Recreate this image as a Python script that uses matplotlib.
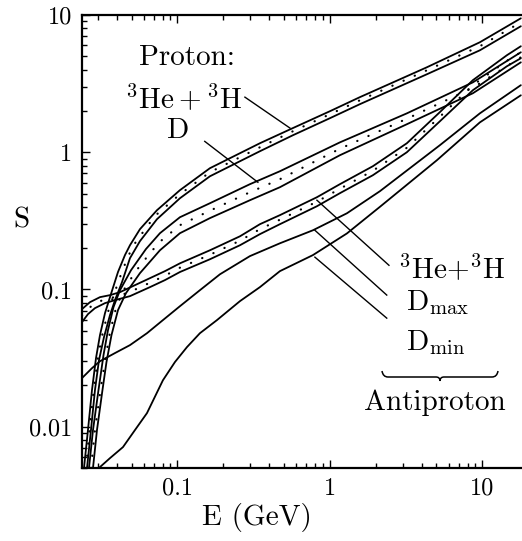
import matplotlib
matplotlib.use('Agg')
import matplotlib.pyplot as plt
from matplotlib.path import Path
from matplotlib.patches import PathPatch
from matplotlib.ticker import FixedLocator, FixedFormatter, LogLocator, NullFormatter

plt.rcParams['font.family'] = 'cmr10'
plt.rcParams['mathtext.fontset'] = 'cm'
plt.rcParams['axes.unicode_minus'] = False

# ---------------- data ----------------
# Proton, 3He+3H band
p_he_hi_E = [0.02437, 0.02588, 0.0275, 0.02922, 0.03103, 0.03347, 0.03609, 0.04073, 0.04525, 0.04881,
             0.05676, 0.07337, 0.1038, 0.1633, 0.3475, 0.5719, 1.0, 1.573, 4.326, 9.63, 17.88]
p_he_hi_S = [0.005, 0.00945, 0.0185, 0.0316, 0.0465, 0.0672, 0.0879, 0.134, 0.178, 0.210,
             0.275, 0.378, 0.529, 0.765, 1.163, 1.50, 1.99, 2.52, 4.16, 6.33, 9.46]
p_he_mid_E = [0.02512, 0.02668, 0.02835, 0.03011, 0.03198, 0.03501, 0.03776, 0.04198, 0.04737, 0.05263,
              0.06405, 0.07337, 0.1038, 0.1633, 0.3475, 0.5719, 1.0, 1.573, 4.326, 9.63, 17.88]
p_he_mid_S = [0.005, 0.0103, 0.0194, 0.0321, 0.0457, 0.0684, 0.0879, 0.123, 0.174, 0.217,
              0.294, 0.3535, 0.494, 0.715, 1.087, 1.422, 1.891, 2.391, 3.955, 5.92, 8.85]
p_he_lo_E = [0.02551, 0.02708, 0.02877, 0.03056, 0.03296, 0.03609, 0.03893, 0.04326, 0.04881, 0.05676,
             0.07337, 0.1038, 0.1633, 0.3475, 0.5719, 1.0, 1.573, 4.326, 9.63, 17.88]
p_he_lo_S = [0.005, 0.00945, 0.0185, 0.0305, 0.0449, 0.065, 0.0836, 0.113, 0.169, 0.225,
             0.325, 0.462, 0.668, 1.017, 1.33, 1.77, 2.24, 3.70, 5.53, 8.28]

# Proton, D band
p_d_hi_E = [0.02628, 0.02792, 0.03034, 0.03272, 0.03501, 0.03805, 0.04198, 0.04956, 0.06214, 0.07676,
            0.1038, 0.1633, 0.2988, 0.47, 1.163, 3.198, 8.663, 17.88]
p_d_hi_S = [0.005, 0.00945, 0.0185, 0.0332, 0.0505, 0.0743, 0.0988, 0.138, 0.197, 0.257,
            0.336, 0.425, 0.585, 0.727, 1.18, 1.92, 3.23, 5.35]
p_d_mid_E = [0.02708, 0.02877, 0.03127, 0.03372, 0.03609, 0.03951, 0.04391, 0.05303, 0.06601, 0.07676,
             0.1038, 0.1633, 0.2988, 0.47, 1.163, 3.198, 8.663, 17.88]
p_d_mid_S = [0.005, 0.00945, 0.0185, 0.0316, 0.0489, 0.0731, 0.0971, 0.1348, 0.1838, 0.2229,
             0.294, 0.375, 0.511, 0.636, 1.060, 1.754, 2.95, 4.92]
p_d_lo_E = [0.02792, 0.02965, 0.03222, 0.03423, 0.03692, 0.04073, 0.04594, 0.05676, 0.07676, 0.1038,
            0.1633, 0.2988, 0.47, 1.163, 3.198, 8.663, 17.88]
p_d_lo_S = [0.005, 0.00945, 0.0185, 0.0296, 0.0465, 0.0707, 0.094, 0.1315, 0.193, 0.257,
            0.331, 0.447, 0.556, 0.951, 1.60, 2.69, 4.52]

# Antiproton, 3He+3H band
a_he_E = [0.02365, 0.02668, 0.03103, 0.03609, 0.04198, 0.05263, 0.06601, 0.08279, 0.1038, 0.1633,
          0.257, 0.3475, 0.47, 0.8217, 1.163, 1.914, 3.198, 5.264, 8.663, 14.48, 17.88]
a_he_hi_S = [0.0719, 0.0808, 0.0879, 0.0909, 0.0956, 0.1075, 0.1209, 0.136, 0.155, 0.193,
             0.244, 0.299, 0.348, 0.470, 0.585, 0.791, 1.163, 1.96, 3.35, 5.09, 5.92]
a_he_mid_S = [0.0645, 0.0743, 0.0822, 0.0864, 0.0901, 0.0997, 0.112, 0.126, 0.1441, 0.179,
              0.2266, 0.275, 0.3224, 0.436, 0.542, 0.733, 1.078, 1.814, 3.08, 4.64, 5.35]
a_he_lo_E = [0.02365, 0.02588, 0.02877, 0.03347, 0.03893, 0.04881, 0.06601, 0.08279, 0.1038, 0.1633,
             0.257, 0.3475, 0.47, 0.8217, 1.163, 1.914, 3.198, 5.264, 8.663, 14.48, 17.88]
a_he_lo_S = [0.0578, 0.0661, 0.0731, 0.0795, 0.0836, 0.0894, 0.104, 0.117, 0.134, 0.166,
             0.210, 0.253, 0.299, 0.404, 0.503, 0.680, 1.0, 1.68, 2.83, 4.23, 4.84]

# Antiproton, D max / D min
a_dmax_E = [0.02365, 0.0275, 0.03103, 0.03893, 0.04881, 0.0631, 0.0803, 0.1038, 0.1404, 0.19,
            0.2988, 0.47, 0.7737, 1.293, 2.128, 5.264, 9.63, 17.88]
a_dmax_S = [0.0226, 0.0267, 0.0300, 0.0344, 0.0393, 0.048, 0.0598, 0.0755, 0.0988, 0.129,
            0.175, 0.217, 0.270, 0.359, 0.520, 1.125, 1.92, 3.08]
a_dmin_E = [0.02922, 0.03103, 0.03609, 0.04391, 0.05263, 0.0631, 0.0803, 0.0963, 0.1154, 0.1404,
            0.1816, 0.257, 0.3475, 0.47, 0.7737, 1.293, 2.128, 5.03, 9.63, 17.88]
a_dmin_S = [0.0048, 0.00508, 0.0059, 0.0071, 0.00945, 0.01256, 0.0218, 0.0296, 0.038, 0.048,
            0.0598, 0.0822, 0.1040, 0.136, 0.178, 0.256, 0.400, 0.874, 1.65, 2.60]

x_ticks = [0.1, 1, 10]
x_tick_labels = ['0.1', '1', '10']
y_ticks = [0.01, 0.1, 1, 10]
y_tick_labels = ['0.01', '0.1', '1', '10']

# leader lines (E0, S0, E1, S1)
leaders = [(0.277, 2.52, 0.547, 1.50),
           (0.151, 1.20, 0.337, 0.604),
           (0.822, 0.447, 2.44, 0.150),
           (0.797, 0.270, 2.36, 0.091),
           (0.797, 0.172, 2.36, 0.0618)]

# ---------------- figure ----------------
W, H = 522, 541
fig = plt.figure(figsize=(W / 100, H / 100), dpi=100)
ax = fig.add_axes([82 / W, (H - 468) / H, 440 / W, 453 / H])
ax.set_xscale('log')
ax.set_yscale('log')

solid = dict(color='black', lw=1.3, solid_joinstyle='round', solid_capstyle='round')
dotted = dict(color='black', lw=1.6, linestyle=(0, (0.1, 5.4)), dash_capstyle='round')

ax.plot(p_he_hi_E, p_he_hi_S, **solid)
ax.plot(p_he_lo_E, p_he_lo_S, **solid)
ax.plot(p_he_mid_E, p_he_mid_S, **dotted)
ax.plot(p_d_hi_E, p_d_hi_S, **solid)
ax.plot(p_d_lo_E, p_d_lo_S, **solid)
ax.plot(p_d_mid_E, p_d_mid_S, **dotted)
ax.plot(a_he_E, a_he_hi_S, **solid)
ax.plot(a_he_lo_E, a_he_lo_S, **solid)
ax.plot(a_he_E, a_he_mid_S, **dotted)
ax.plot(a_dmax_E, a_dmax_S, **solid)
ax.plot(a_dmin_E, a_dmin_S, **solid)

for e0, s0, e1, s1 in leaders:
    ax.plot([e0, e1], [s0, s1], color='black', lw=1.0)

ax.set_xlim(0.02365, 18.2)
ax.set_ylim(0.005, 10)

ax.xaxis.set_major_locator(FixedLocator(x_ticks))
ax.xaxis.set_major_formatter(FixedFormatter(x_tick_labels))
ax.yaxis.set_major_locator(FixedLocator(y_ticks))
ax.yaxis.set_major_formatter(FixedFormatter(y_tick_labels))
ax.xaxis.set_minor_locator(LogLocator(base=10, subs=range(2, 10), numticks=20))
ax.yaxis.set_minor_locator(LogLocator(base=10, subs=range(2, 10), numticks=20))
ax.xaxis.set_minor_formatter(NullFormatter())
ax.yaxis.set_minor_formatter(NullFormatter())

ax.tick_params(which='both', direction='in', top=True, right=False, bottom=True, left=True,
               width=1.0, labelsize=17.5, pad=7)
ax.tick_params(which='major', length=6)
ax.tick_params(which='minor', length=3.5)
for side in ['top', 'left', 'bottom']:
    ax.spines[side].set_linewidth(1.6)
ax.spines['right'].set_visible(False)

fig.text(257 / W, 1 - 517 / H, 'E (GeV)', fontsize=21, ha='center', va='center')
fig.text(21 / W, 1 - 220 / H, 'S', fontsize=21, ha='center', va='center')

tfs = 21
ax.text(0.238, 0.890, 'Proton:', transform=ax.transAxes, fontsize=tfs, ha='center', va='baseline')
ax.text(0.232, 0.795, r'${}^{3}\mathrm{He}+{}^{3}\mathrm{H}$', transform=ax.transAxes,
        fontsize=tfs, ha='center', va='baseline')
ax.text(0.218, 0.728, 'D', transform=ax.transAxes, fontsize=tfs, ha='center', va='baseline')

ax.text(0.718, 0.419, r'${}^{3}\mathrm{He}{+}{}^{3}\mathrm{H}$', transform=ax.transAxes,
        fontsize=tfs, ha='left', va='baseline')
ax.text(0.736, 0.349, r'$\mathrm{D}_{\mathrm{max}}$', transform=ax.transAxes,
        fontsize=tfs, ha='left', va='baseline')
ax.text(0.736, 0.260, r'$\mathrm{D}_{\mathrm{min}}$', transform=ax.transAxes,
        fontsize=tfs, ha='left', va='baseline')
ax.text(0.802, 0.128, 'Antiproton', transform=ax.transAxes, fontsize=tfs, ha='center', va='baseline')

# under-brace
def px2ax(px, py):
    return ((px - 82) / 440.0, (468 - py) / 453.0)

brace_px = [(382, 371), (383, 377), (388, 377), (436, 377), (440, 377), (440, 381),
            (440, 377), (444, 377), (492, 377), (497, 377), (498, 371)]
codes = [Path.MOVETO, Path.CURVE3, Path.CURVE3, Path.LINETO, Path.CURVE3, Path.CURVE3,
         Path.CURVE3, Path.CURVE3, Path.LINETO, Path.CURVE3, Path.CURVE3]
verts = [px2ax(*p) for p in brace_px]
ax.add_patch(PathPatch(Path(verts, codes), transform=ax.transAxes, fill=False,
                       lw=1.1, color='black', clip_on=False))

fig.savefig('out.png', dpi=100)
